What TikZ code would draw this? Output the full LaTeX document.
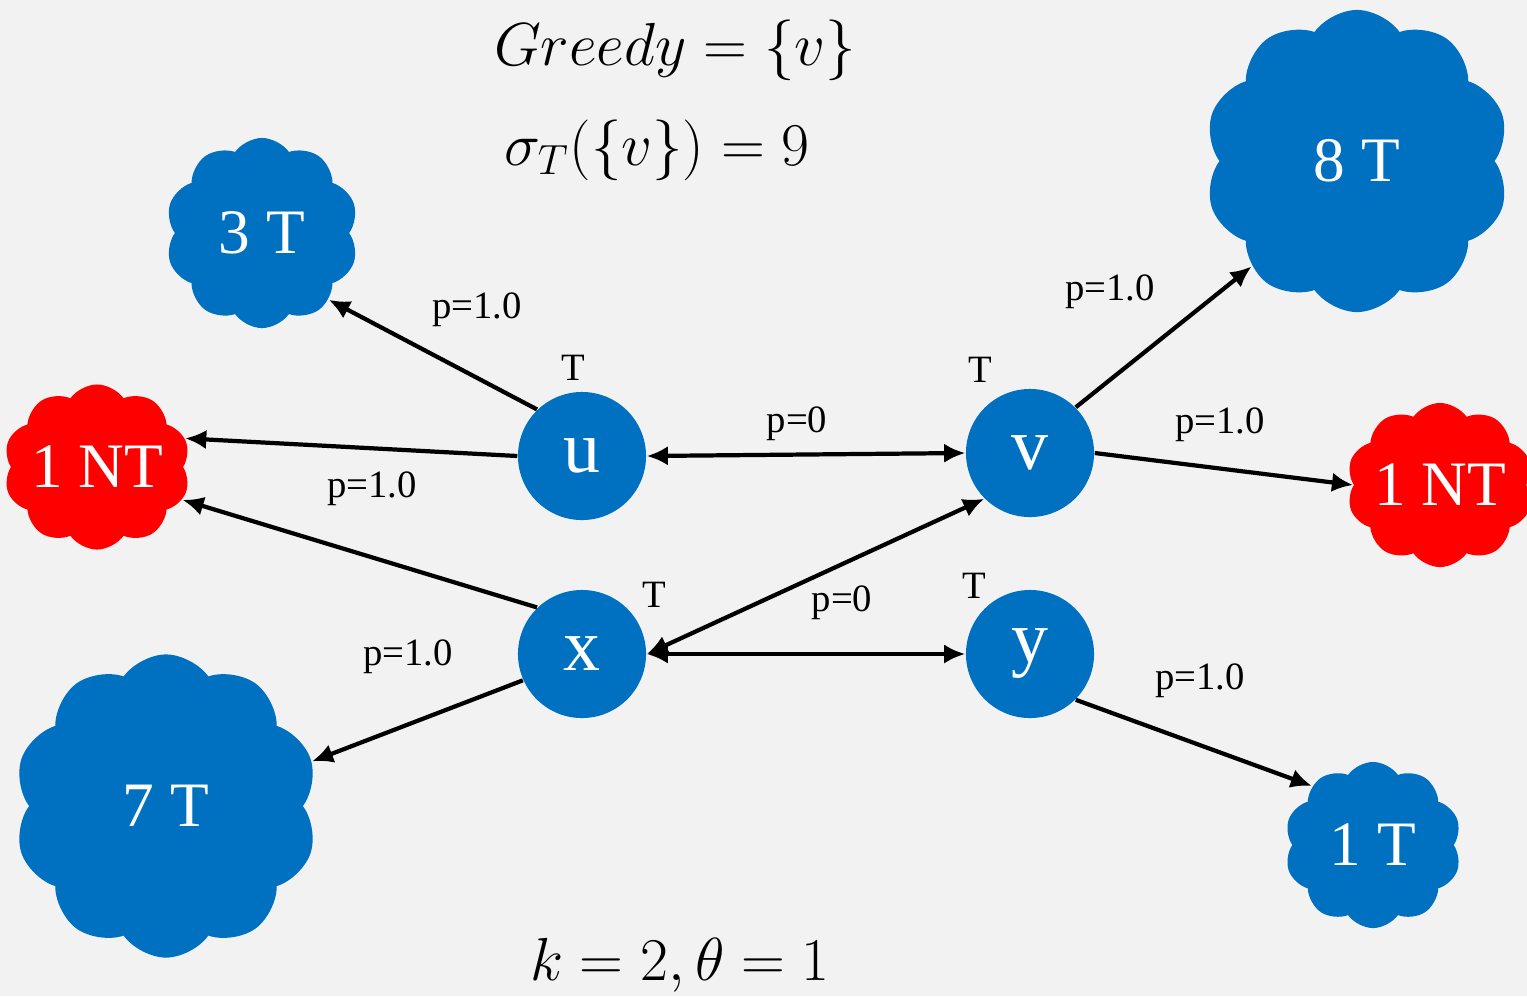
\documentclass[tikz,border=0pt]{standalone}
\usepackage[no-math]{fontspec}
\setmainfont{Liberation Serif}
\usetikzlibrary{shapes.symbols,arrows.meta}
\definecolor{nodeblue}{RGB}{0,112,192}
\definecolor{bggrey}{RGB}{242,242,242}
\definecolor{ntred}{RGB}{255,0,0}

\tikzset{
    vertex/.style={circle,fill=nodeblue,minimum size=1.28cm,inner sep=0pt,
        text=white,font=\fontsize{21}{24}\selectfont},
    blob/.style={cloud,cloud puffs=10,cloud puff arc=110,cloud ignores aspect,fill=#1,inner sep=0pt,
        text=white,font=\fontsize{18}{22}\selectfont},
    edge/.style={line width=1.2pt,-{Latex[length=6pt,width=5.5pt]}},
    biedge/.style={line width=1.2pt,{Latex[length=6pt,width=5.5pt]}-{Latex[length=6pt,width=5.5pt]}},
    plabel/.style={font=\fontsize{11}{13}\selectfont},
    mathtext/.style={font=\fontsize{18}{22}\selectfont},
}

\begin{document}
\begin{tikzpicture}[x=0.01cm,y=-0.01cm]
    % background
    \fill[bggrey] (0,0) rectangle (1527,996);
    \useasboundingbox (0,0) rectangle (1527,996);

    % titles
    \node[mathtext] (greedy) at (675,50) {$Greedy = \{v\}$};
    \node[mathtext] (sigma) at (657,150) {$\sigma_T(\{v\}) = 9$};
    \node[mathtext] (param) at (680,965) {$k = 2, \theta = 1$};

    % vertices
    \node[vertex] (u) at (582,456) {u};
    \node[vertex] (v) at (1030,453) {v};
    \node[vertex] (x) at (582,654) {x};
    \node[vertex] (y) at (1030,654) {y};
    \node[plabel] (tu) at (573,368) {T};
    \node[plabel] (tv) at (980,370) {T};
    \node[plabel] (tx) at (654,595) {T};
    \node[plabel] (ty) at (974,586) {T};

    % clouds
    \node[blob=nodeblue,minimum width=1.93cm,minimum height=1.90cm] (c3) at (262,233) {3 T};
    \node[blob=ntred,minimum width=1.66cm,minimum height=1.65cm] (ntl) at (97,467) {1 NT};
    \node[blob=nodeblue,minimum width=3.04cm,minimum height=3.03cm] (c7) at (166,806) {7 T};
    \node[blob=nodeblue,minimum width=3.05cm,minimum height=3.02cm] (c8) at (1357,161) {8 T};
    \node[blob=ntred,minimum width=1.65cm,minimum height=1.64cm] (ntr) at (1440,485) {1 NT};
    \node[blob=nodeblue,minimum width=1.77cm,minimum height=1.66cm] (c1) at (1373,845) {1 T};

    % edges
    \draw[edge] (u.134) -- (c3.-45);
    \draw[edge] (u.180) -- (ntl.18);
    \draw[edge] (x.134) -- (ntl.-21);
    \draw[edge] (x.204) -- (c7.17);
    \draw[biedge] (u.0) -- (v.180);
    \draw[biedge] (x.0) -- (v.225);
    \draw[biedge] (x.0) -- (y.180);
    \draw[edge] (v.45) -- (c8.225);
    \draw[edge] (v.0) -- (ntr.180);
    \draw[edge] (y.-45) -- (c1.136);

    % probabilities
    \node[plabel] (p1) at (477,310) {p=1.0};
    \node[plabel] (p2) at (372,489) {p=1.0};
    \node[plabel] (p3) at (408,657) {p=1.0};
    \node[plabel] (p4) at (797,424) {p=0};
    \node[plabel] (p5) at (842,603) {p=0};
    \node[plabel] (p6) at (1110,292) {p=1.0};
    \node[plabel] (p7) at (1220,425) {p=1.0};
    \node[plabel] (p8) at (1200,681) {p=1.0};
\end{tikzpicture}
\end{document}
